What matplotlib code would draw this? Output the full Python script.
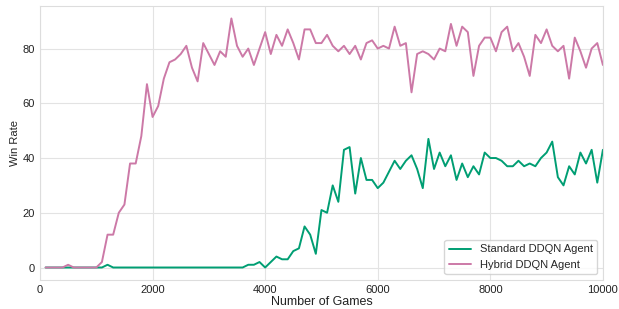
import matplotlib
matplotlib.use("Agg")
import matplotlib.pyplot as plt
import numpy as np

# win rate sampled every 100 games
games = np.arange(100, 10001, 100)

standard_win = [
    0, 0, 0, 0, 0, 0, 0, 0, 0, 0,
    0, 1, 0, 0, 0, 0, 0, 0, 0, 0,
    0, 0, 0, 0, 0, 0, 0, 0, 0, 0,
    0, 0, 0, 0, 0, 0, 1, 1, 2, 0,
    2, 4, 3, 3, 6, 7, 15, 12, 5, 21,
    20, 30, 24, 43, 44, 27, 40, 32, 32, 29,
    31, 35, 39, 36, 39, 41, 36, 29, 47, 36,
    42, 37, 41, 32, 38, 33, 37, 34, 42, 40,
    40, 39, 37, 37, 39, 37, 38, 37, 40, 42,
    46, 33, 30, 37, 34, 42, 38, 43, 31, 43,
]

hybrid_win = [
    0, 0, 0, 0, 1, 0, 0, 0, 0, 0,
    2, 12, 12, 20, 23, 38, 38, 48, 67, 55,
    59, 69, 75, 76, 78, 81, 73, 68, 82, 78,
    74, 79, 77, 91, 81, 77, 80, 74, 80, 86,
    78, 85, 81, 87, 82, 76, 87, 87, 82, 82,
    85, 81, 79, 81, 78, 81, 76, 82, 83, 80,
    81, 80, 88, 81, 82, 64, 78, 79, 78, 76,
    80, 79, 89, 81, 88, 86, 70, 81, 84, 84,
    79, 86, 88, 79, 82, 77, 70, 85, 82, 87,
    81, 79, 81, 69, 84, 79, 73, 80, 82, 74,
]

plt.style.use("seaborn-v0_8-whitegrid")
plt.rcParams["font.family"] = ["Liberation Sans", "DejaVu Sans"]

fig, ax = plt.subplots(figsize=(6.19, 3.09), dpi=100)
ax.plot(games, standard_win, color="#009E73", linewidth=1.4, label="Standard DDQN Agent")
ax.plot(games, hybrid_win, color="#CC79A7", linewidth=1.4, label="Hybrid DDQN Agent")

ax.set_xlim(0, 10000)
ax.set_xlabel("Number of Games", fontsize=9, labelpad=1, color="#222222")
ax.set_ylabel("Win Rate", fontsize=8, labelpad=2, color="#222222")
ax.tick_params(labelsize=8, labelcolor="#222222")
for spine in ax.spines.values():
    spine.set_visible(True)
    spine.set_color("#dddddd")
    spine.set_linewidth(0.8)
ax.grid(True, color="#e3e3e3", linewidth=0.8)
ax.legend(loc="lower right", frameon=True, fontsize=8)

fig.subplots_adjust(left=0.0646, right=0.974, top=0.9806, bottom=0.094)
fig.savefig("out.png", dpi=100)
